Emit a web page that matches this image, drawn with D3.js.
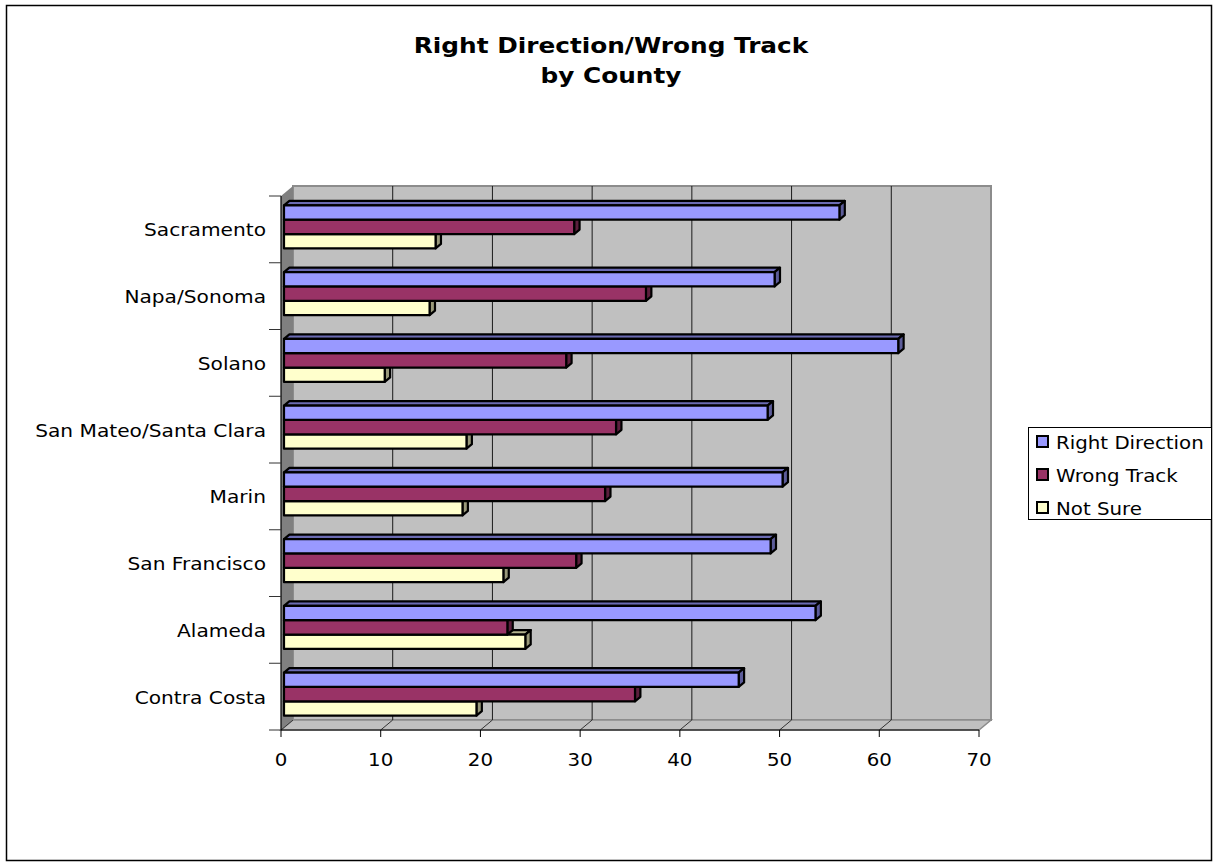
<!DOCTYPE html>
<html>
<head>
<meta charset="utf-8">
<script src="https://cdn.jsdelivr.net/npm/d3@7"></script>
<style>
  body { margin: 0; background: #fff; }
  svg { display: block; }
  text { font-family: "DejaVu Sans", Verdana, sans-serif; fill: #000; }
</style>
</head>
<body>
<svg id="chart" width="1217" height="867"></svg>
<script>
// Survey results by county (percent)
const counties = ["Sacramento", "Napa/Sonoma", "Solano", "San Mateo/Santa Clara",
                  "Marin", "San Francisco", "Alameda", "Contra Costa"];
const seriesNames = ["Right Direction", "Wrong Track", "Not Sure"];
const rightDirection = [55.7, 49.2, 61.6, 48.5, 50.0, 48.8, 53.3, 45.6];
const wrongTrack     = [29.1, 36.3, 28.3, 33.3, 32.2, 29.3, 22.4, 35.2];
const notSure        = [15.2, 14.6, 10.1, 18.3, 17.9, 22.0, 24.2, 19.3];
const xTicks = [0, 10, 20, 30, 40, 50, 60, 70];
const titleLines = ["Right Direction/Wrong Track", "by County"];

const seriesValues = [rightDirection, wrongTrack, notSure];
const frontFill = ["#9999ff", "#993366", "#ffffcc"];
const topFill   = ["#6b6bb3", "#6b2447", "#b3b38f"];
const sideFill  = ["#5c5c99", "#5c1f3d", "#99997a"];

const svg = d3.select("#chart");

// outer chart frame
svg.append("rect")
  .attr("x", 6.5).attr("y", 5.5).attr("width", 1205).attr("height", 855)
  .attr("fill", "#fff").attr("stroke", "#000").attr("stroke-width", 1.5);

// title
const title = svg.append("g");
titleLines.forEach((line, i) => {
  title.append("text")
    .attr("transform", `translate(611,${53 + i * 30}) scale(1.18,1)`)
    .attr("text-anchor", "middle")
    .attr("font-weight", "bold")
    .attr("font-size", 21)
    .text(line);
});

// plot geometry (front plane) and depth vector of the 3-D box
const plotLeft = 281, plotRight = 979, plotTop = 196, plotBottom = 730;
const depthX = 12, depthY = -10;

const x = d3.scaleLinear().domain([0, 70]).range([plotLeft, plotRight]);
const y = d3.scaleBand().domain(counties).range([plotTop, plotBottom]).padding(0);
const groupFrac = 0.645;
const inner = d3.scaleBand().domain(seriesNames)
  .range([0, y.bandwidth() * groupFrac]).padding(0);

const proj = (px, py, d) => [px + depthX * d, py + depthY * d];
const poly = pts => pts.map(p => p.join(",")).join(" ");

// back wall
const walls = svg.append("g");
walls.append("rect")
  .attr("x", x(0) + depthX).attr("y", plotTop + depthY)
  .attr("width", x(70) - x(0)).attr("height", plotBottom - plotTop)
  .attr("fill", "#c0c0c0").attr("stroke", "#8c8c8c").attr("stroke-width", 2);

// left side wall
walls.append("polygon")
  .attr("points", poly([[x(0), plotTop], proj(x(0), plotTop, 1),
                        proj(x(0), plotBottom, 1), [x(0), plotBottom]]))
  .attr("fill", "#808080");

// floor
walls.append("polygon")
  .attr("points", poly([[x(0), plotBottom], proj(x(0), plotBottom, 1),
                        proj(x(70), plotBottom, 1), [x(70), plotBottom]]))
  .attr("fill", "#c0c0c0").attr("stroke", "#8c8c8c").attr("stroke-width", 1.5);

// gridlines on the back wall
walls.selectAll("line.grid")
  .data(xTicks.filter(t => t > 0 && t < 70))
  .join("line").attr("class", "grid")
  .attr("x1", d => x(d) + depthX).attr("x2", d => x(d) + depthX)
  .attr("y1", plotTop + depthY).attr("y2", plotBottom + depthY)
  .attr("stroke", "#1a1a1a").attr("stroke-width", 1);

// floor gridlines
walls.selectAll("line.floor")
  .data(xTicks.filter(t => t < 70))
  .join("line").attr("class", "floor")
  .attr("x1", d => x(d)).attr("y1", plotBottom)
  .attr("x2", d => x(d) + depthX).attr("y2", plotBottom + depthY)
  .attr("stroke", "#333").attr("stroke-width", 1);

// bars: front face, top face and right end face
const d0 = 0.25, d1 = 0.7;
const bars = svg.append("g")
  .attr("stroke", "#000").attr("stroke-width", 2.2).attr("stroke-linejoin", "round");

counties.forEach((c, i) => {
  const groupTop = y(c) + (y.bandwidth() * (1 - groupFrac)) / 2;
  // draw bottom series first so upper bars cover the hidden top faces
  for (let j = seriesNames.length - 1; j >= 0; j--) {
    const v = seriesValues[j][i];
    const yt = groupTop + inner(seriesNames[j]);
    const yb = yt + inner.bandwidth();
    const xl = x(0), xr = x(v);
    const g = bars.append("g");
    g.append("polygon")
      .attr("points", poly([proj(xl, yt, d0), proj(xr, yt, d0), proj(xr, yt, d1), proj(xl, yt, d1)]))
      .attr("fill", topFill[j]);
    g.append("polygon")
      .attr("points", poly([proj(xr, yt, d0), proj(xr, yt, d1), proj(xr, yb, d1), proj(xr, yb, d0)]))
      .attr("fill", sideFill[j]);
    const [fx, fy] = proj(xl, yt, d0);
    g.append("rect")
      .attr("x", fx).attr("y", fy)
      .attr("width", xr - xl).attr("height", yb - yt)
      .attr("fill", frontFill[j]);
  }
});

// value axis along the front edge of the floor
const xAxis = svg.append("g");
xAxis.append("line")
  .attr("x1", x(0)).attr("x2", x(70)).attr("y1", plotBottom).attr("y2", plotBottom)
  .attr("stroke", "#000").attr("stroke-width", 1.2);
xAxis.selectAll("line.tick").data(xTicks).join("line").attr("class", "tick")
  .attr("x1", d => x(d)).attr("x2", d => x(d))
  .attr("y1", plotBottom).attr("y2", plotBottom + 7)
  .attr("stroke", "#000").attr("stroke-width", 1);
xAxis.selectAll("text").data(xTicks).join("text")
  .attr("transform", d => `translate(${x(d)},${plotBottom + 36}) scale(1.1,1)`)
  .attr("text-anchor", "middle").attr("font-size", 18)
  .text(d => d);

// category axis on the left
const yAxis = svg.append("g");
yAxis.append("line")
  .attr("x1", plotLeft).attr("x2", plotLeft).attr("y1", plotTop).attr("y2", plotBottom)
  .attr("stroke", "#000").attr("stroke-width", 1.2);
const boundaries = counties.map(c => y(c)).concat([plotBottom]);
yAxis.selectAll("line.tick").data(boundaries).join("line").attr("class", "tick")
  .attr("x1", plotLeft - 12).attr("x2", plotLeft)
  .attr("y1", d => d).attr("y2", d => d)
  .attr("stroke", "#333").attr("stroke-width", 1);
yAxis.selectAll("text").data(counties).join("text")
  .attr("transform", c => `translate(${plotLeft - 15},${y(c) + y.bandwidth() / 2 + 7}) scale(1.12,1)`)
  .attr("text-anchor", "end").attr("font-size", 18)
  .text(c => c);

// legend
const legend = svg.append("g");
legend.append("rect")
  .attr("x", 1028.5).attr("y", 427.5).attr("width", 183).attr("height", 92)
  .attr("fill", "#fff").attr("stroke", "#000").attr("stroke-width", 1);
seriesNames.forEach((s, j) => {
  const cy = 442 + j * 33;
  legend.append("rect")
    .attr("x", 1037).attr("y", cy - 6).attr("width", 11).attr("height", 11)
    .attr("fill", frontFill[j]).attr("stroke", "#000").attr("stroke-width", 2);
  legend.append("text")
    .attr("transform", `translate(1056,${cy + 7}) scale(1.1,1)`)
    .attr("font-size", 18)
    .text(s);
});
</script>
</body>
</html>
